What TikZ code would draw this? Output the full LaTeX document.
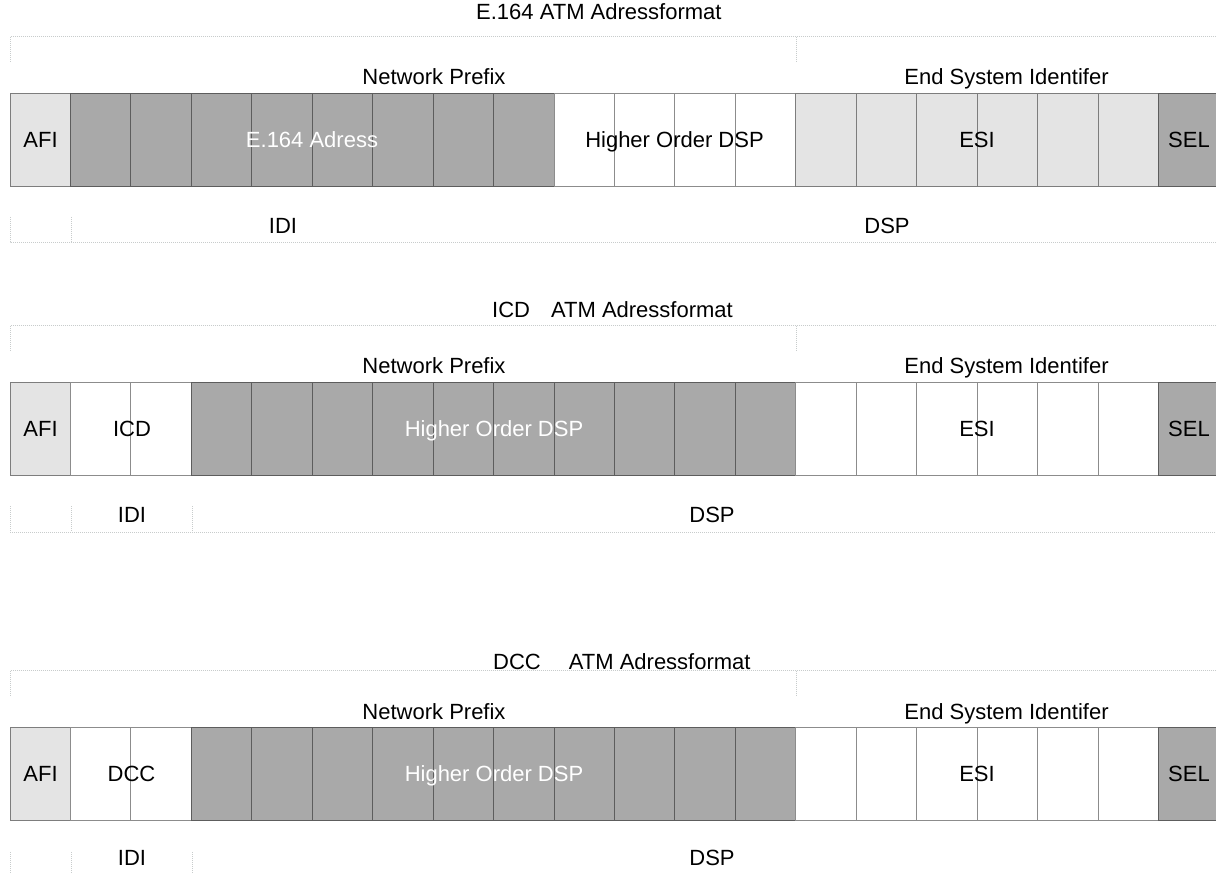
\documentclass[tikz,border=0pt]{standalone}
\usepackage{fontspec}
\setmainfont{Liberation Sans}
\definecolor{darkfill}{HTML}{A9A9A9}
\definecolor{lightfill}{HTML}{E4E4E4}
\definecolor{guidegray}{HTML}{C8CCCC}
% one row of 20 octet cells, each filled with the colour in the list
\newcommand\atmcells[1]{%
  \foreach \f [count=\i from 0] in {#1} {
    \draw[draw=\f!55!black, fill=\f, line width=0.8pt]
      ({10+\i*60.44},93) rectangle ++(60.44,93);
  }}
\begin{document}
\begin{tikzpicture}[x=1pt,y=-1pt,
  lbl/.style={font=\fontsize{22}{26}\selectfont, inner sep=0pt, anchor=base, text=black},
  wlbl/.style={lbl, text=white},
  guide/.style={draw=guidegray, line width=0.7pt, dash pattern=on 1pt off 1pt}]
\useasboundingbox (0,0) rectangle (1216,874);
\clip (0,0) rectangle (1216,874);

% ---------- E.164 format ----------
\node[lbl, anchor=base west] (titleA) at (476,20) {E.164 ATM Adressformat};
\begin{scope}
  \draw[guide] (10,62) -- (10,36.7) -- (1220,36.7);
  \draw[guide] (796,36.7) -- (796,62);
  \node[lbl] (npA) at (434,85) {Network Prefix};
  \node[lbl] (esA) at (1006.5,85) {End System Identifer};
  \atmcells{lightfill,darkfill,darkfill,darkfill,darkfill,darkfill,darkfill,darkfill,darkfill,white,white,white,white,lightfill,lightfill,lightfill,lightfill,lightfill,lightfill,darkfill}
  \node[lbl] (afiA) at (40.5,147.5) {AFI};
  \node[wlbl] (addrA) at (312,147.5) {E.164 Adress};
  \node[lbl] (hoA) at (674.5,147.5) {Higher Order DSP};
  \node[lbl] (esiA) at (977,147.5) {ESI};
  \node[lbl] (selA) at (1189,147.5) {SEL};
  \draw[guide] (10,217) -- (10,242) -- (1220,242);
  \draw[guide] (71,217) -- (71,242);
  \node[lbl] (idiA) at (283,234) {IDI};
  \node[lbl] (dspA) at (887,234) {DSP};
\end{scope}

% ---------- ICD format ----------
\node[lbl, anchor=base west] (titleB) at (492,318) {ICD\hspace{21pt}ATM Adressformat};
\begin{scope}[yshift=-289pt]
  \draw[guide] (10,62) -- (10,36.7) -- (1220,36.7);
  \draw[guide] (796,36.7) -- (796,62);
  \node[lbl] (npB) at (434,85) {Network Prefix};
  \node[lbl] (esB) at (1006.5,85) {End System Identifer};
  \atmcells{lightfill,white,white,darkfill,darkfill,darkfill,darkfill,darkfill,darkfill,darkfill,darkfill,darkfill,darkfill,white,white,white,white,white,white,darkfill}
  \node[lbl] (afiB) at (40.5,147.5) {AFI};
  \node[lbl] (icdB) at (132,147.5) {ICD};
  \node[wlbl] (hoB) at (494,147.5) {Higher Order DSP};
  \node[lbl] (esiB) at (977,147.5) {ESI};
  \node[lbl] (selB) at (1189,147.5) {SEL};
  \draw[guide] (10,217) -- (10,243) -- (1220,243);
  \draw[guide] (71,217) -- (71,243);
  \draw[guide] (192,217) -- (192,243);
  \node[lbl] (idiB) at (132,233) {IDI};
  \node[lbl] (dspB) at (712,233) {DSP};
\end{scope}

% ---------- DCC format ----------
\node[lbl, anchor=base west] (titleC) at (493,669) {DCC\hspace{28pt}ATM Adressformat};
\begin{scope}[yshift=-634pt]
  \draw[guide] (10,62) -- (10,36.7) -- (1220,36.7);
  \draw[guide] (796,36.7) -- (796,62);
  \node[lbl] (npC) at (434,85) {Network Prefix};
  \node[lbl] (esC) at (1006.5,85) {End System Identifer};
  \atmcells{lightfill,white,white,darkfill,darkfill,darkfill,darkfill,darkfill,darkfill,darkfill,darkfill,darkfill,darkfill,white,white,white,white,white,white,darkfill}
  \node[lbl] (afiC) at (40.5,147.5) {AFI};
  \node[lbl] (dccC) at (131.5,147.5) {DCC};
  \node[wlbl] (hoC) at (494,147.5) {Higher Order DSP};
  \node[lbl] (esiC) at (977,147.5) {ESI};
  \node[lbl] (selC) at (1189,147.5) {SEL};
  \draw[guide] (10,218) -- (10,245);
  \draw[guide] (71,218) -- (71,245);
  \draw[guide] (192,218) -- (192,245);
  \node[lbl] (idiC) at (132,231) {IDI};
  \node[lbl] (dspC) at (712,231) {DSP};
\end{scope}
\end{tikzpicture}
\end{document}
